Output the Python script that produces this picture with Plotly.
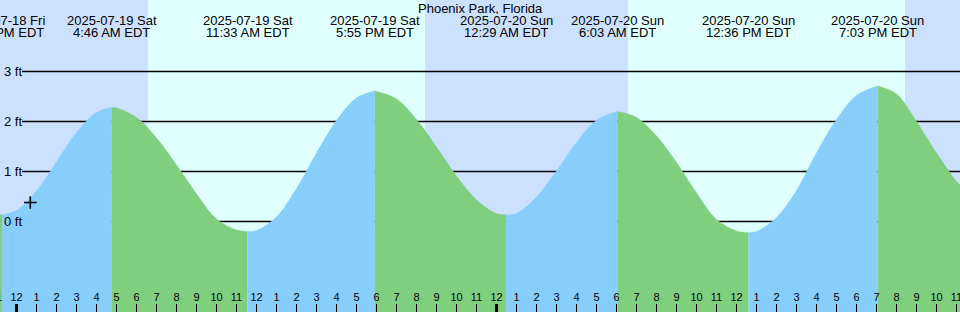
import plotly.graph_objects as go

# ---------------- data ----------------
hours = list(range(0, 48))  # hours since 2025-07-19 00:00 EDT
heights = [0.22, 0.61, 1.19, 1.78, 2.18, 2.27, 2.08, 1.67, 1.13, 0.55,
           0.05, -0.17, -0.18, 0.09, 0.66, 1.37, 2.02, 2.47, 2.61, 2.45,
           2.04, 1.49, 0.91, 0.43, 0.16, 0.16, 0.49, 1.01, 1.58, 2.02,
           2.20, 2.08, 1.71, 1.18, 0.57, 0.04, -0.19, -0.20, 0.08, 0.62,
           1.37, 2.04, 2.52, 2.71, 2.55, 2.00, 1.37, 0.80]

ext_hours = [-0.717, 4.767, 11.55, 17.917, 24.483, 30.05, 36.6, 43.05]
ext_heights = [0.13, 2.28, -0.20, 2.61, 0.13, 2.20, -0.22, 2.71]
ext_dates = ["2025-07-18 Fri", "2025-07-19 Sat", "2025-07-19 Sat", "2025-07-19 Sat",
             "2025-07-20 Sun", "2025-07-20 Sun", "2025-07-20 Sun", "2025-07-20 Sun"]
ext_times = ["11:17 PM EDT", "4:46 AM EDT", "11:33 AM EDT", "5:55 PM EDT",
             "12:29 AM EDT", "6:03 AM EDT", "12:36 PM EDT", "7:03 PM EDT"]

edge_hours = [-0.825, 47.175]
edge_heights = [0.14, 0.73]

sunrise = [6.567, 30.567]
sunset = [20.425, 44.425]

now_hour, now_height = 0.69, 0.38

grid_levels = [0, 1, 2, 3]
grid_labels = ["0 ft", "1 ft", "2 ft", "3 ft"]

tick_hours = list(range(-1, 48))
tick_labels = [str((h % 12) or 12) for h in tick_hours]

title = "Phoenix Park, Florida"

# ---------------- styles ----------------
FONT = "Liberation Sans, Arial, sans-serif"
NIGHT = "#cce0ff"
DAY = "#e0ffff"
RISE = "#87cefa"
FALL = "#7fcf7f"
XR = [-0.825, 47.175]
YR = [-1.81, 4.43]
YBOT = -2.2

fig = go.Figure()

# assemble curve points
pts = []
for h, v in zip(edge_hours + ext_hours, edge_heights + ext_heights):
    pts.append((h, v))
for h, v in zip(hours, heights):
    if min(abs(h - e) for e in ext_hours) > 0.2:
        pts.append((h, v))
pts.sort()

bounds = sorted(edge_hours + ext_hours)
for a, b in zip(bounds[:-1], bounds[1:]):
    seg = [p for p in pts if a - 1e-9 <= p[0] <= b + 1e-9]
    xs = [p[0] for p in seg]
    ys = [p[1] for p in seg]
    color = RISE if ys[-1] > ys[0] else FALL
    fig.add_trace(go.Scatter(x=[xs[0], xs[-1]], y=[YBOT, YBOT], mode="lines",
                             line=dict(width=0, color=color), hoverinfo="skip",
                             showlegend=False))
    fig.add_trace(go.Scatter(x=xs, y=ys, mode="lines", fill="tonexty",
                             fillcolor=color, line=dict(width=0.5, color=color, shape="spline"),
                             hoverinfo="skip", showlegend=False))

# current-time marker
fig.add_trace(go.Scatter(x=[now_hour], y=[now_height], mode="markers",
                         marker=dict(symbol="cross-thin", size=9,
                                     line=dict(width=1.5, color="black")),
                         hoverinfo="skip", showlegend=False))

# hour ticks
reg_x, reg_y, mid_x, mid_y = [], [], [], []
for h in tick_hours:
    if h % 24 == 0:
        mid_x += [h, h, None]
        mid_y += [-1.65, YBOT, None]
    else:
        reg_x += [h, h, None]
        reg_y += [-1.65, YBOT, None]
fig.add_trace(go.Scatter(x=reg_x, y=reg_y, mode="lines",
                         line=dict(width=1, color="black"), hoverinfo="skip", showlegend=False))
fig.add_trace(go.Scatter(x=mid_x, y=mid_y, mode="lines",
                         line=dict(width=3, color="black"), hoverinfo="skip", showlegend=False))
fig.add_trace(go.Scatter(x=tick_hours, y=[-1.53] * len(tick_hours), mode="text",
                         text=tick_labels, textposition="middle center",
                         textfont=dict(family=FONT, size=11, color="black"),
                         hoverinfo="skip", showlegend=False))

shapes = []
# night shading
night_spans = [(XR[0], sunrise[0]), (sunset[0], sunrise[1]), (sunset[1], XR[1])]
for x0, x1 in night_spans:
    shapes.append(dict(type="rect", xref="x", yref="paper", x0=x0, x1=x1, y0=0, y1=1,
                       fillcolor=NIGHT, line=dict(width=0), layer="below"))
# grid lines
for lv in grid_levels:
    shapes.append(dict(type="line", xref="x", yref="y", x0=0.275, x1=XR[1], y0=lv, y1=lv,
                       line=dict(color="black", width=1.5), layer="below"))

annotations = []
for lv, lab in zip(grid_levels, grid_labels):
    annotations.append(dict(x=0, xref="paper", y=lv, yref="y", text=lab, showarrow=False,
                            xanchor="left", yanchor="middle", xshift=2,
                            font=dict(family=FONT, size=13, color="black")))
annotations.append(dict(x=0.5, xref="paper", y=1 - 7.5 / 312, yref="paper", text=title,
                        showarrow=False, xanchor="center", yanchor="middle", height=12,
                        font=dict(family=FONT, size=13, color="black")))
for h, d, t in zip(ext_hours, ext_dates, ext_times):
    annotations.append(dict(x=h, xref="x", y=1 - 19.5 / 312, yref="paper", text=d,
                            showarrow=False, xanchor="center", yanchor="middle", height=12,
                            font=dict(family=FONT, size=13, color="black")))
    annotations.append(dict(x=h, xref="x", y=1 - 32 / 312, yref="paper", text=t,
                            showarrow=False, xanchor="center", yanchor="middle", height=12,
                            font=dict(family=FONT, size=13, color="black")))

fig.update_layout(
    width=960, height=312, autosize=False,
    margin=dict(l=0, r=0, t=0, b=0),
    paper_bgcolor=DAY, plot_bgcolor=DAY,
    xaxis=dict(range=XR, visible=False, fixedrange=True),
    yaxis=dict(range=YR, visible=False, fixedrange=True),
    shapes=shapes, annotations=annotations,
    hovermode=False, showlegend=False,
)

fig.write_html("out.html")
